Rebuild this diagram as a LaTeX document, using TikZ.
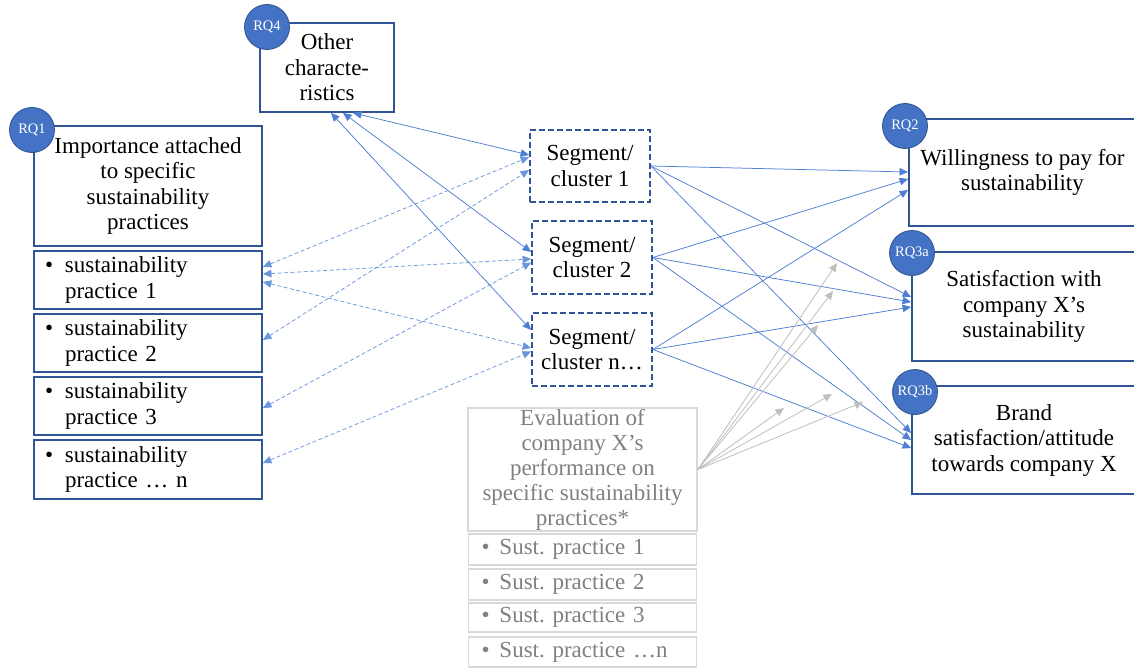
\documentclass[tikz,border=0pt]{standalone}
\usepackage{fontspec}
\setmainfont{Liberation Serif}
\usetikzlibrary{arrows.meta}
\frenchspacing
\definecolor{boxblue}{HTML}{2F5597}
\definecolor{rqfill}{HTML}{4472C4}
\definecolor{rqedge}{HTML}{2F528F}
\definecolor{linkblue}{HTML}{4E7FD4}
\definecolor{dashblue}{HTML}{6A96DC}
\definecolor{gbox}{HTML}{D9D9D9}
\definecolor{gtext}{HTML}{808080}
\definecolor{garrow}{HTML}{BFBFBF}
\begin{document}
\begin{tikzpicture}[x=1pt,y=-1pt,
  >={Triangle[length=8.5pt,width=7.5pt]},
  txt/.style={font=\fontsize{23}{25.5}\selectfont},
  bluebox/.style={draw=boxblue,line width=1.8pt,fill=white,inner sep=0pt,align=center,txt},
  segbox/.style={bluebox,dash pattern=on 6pt off 3pt},
  graybox/.style={draw=gbox,line width=1.8pt,fill=white,inner sep=0pt,align=center,text=gtext,txt},
  listbox/.style={align=left,inner xsep=11pt,text width=206pt},
  glistbox/.style={align=left,inner xsep=13pt,text width=202pt},
  rq/.style={circle,fill=rqfill,draw=rqedge,line width=0.8pt,minimum size=45pt,inner sep=0pt,text=white,font=\fontsize{14.5}{14.5}\selectfont},
  link/.style={draw=linkblue,line width=0.75pt},
  dlink/.style={draw=dashblue,line width=0.75pt,dash pattern=on 4pt off 2.5pt},
  glink/.style={draw=garrow,line width=0.8pt}
]
\clip (0,0) rectangle (1134,669);
\fill[white] (0,0) rectangle (1134,669);

% left column
\node[bluebox,minimum width=134pt,minimum height=89pt] (other) at (327,67.5) {Other\\characte-\\ristics};
\node[bluebox,minimum width=228pt,minimum height=120pt] (imp) at (148,186) {Importance attached\\to specific\\sustainability\\practices};
\node[bluebox,listbox,minimum height=58pt] (sp1) at (148,280) {\makebox[20pt][l]{\textbullet}sustainability\\\hspace*{20pt}practice 1};
\node[bluebox,listbox,minimum height=58pt] (sp2) at (148,343) {\makebox[20pt][l]{\textbullet}sustainability\\\hspace*{20pt}practice 2};
\node[bluebox,listbox,minimum height=58pt] (sp3) at (148,406) {\makebox[20pt][l]{\textbullet}sustainability\\\hspace*{20pt}practice 3};
\node[bluebox,listbox,minimum height=59pt] (spn) at (148,469.5) {\makebox[20pt][l]{\textbullet}sustainability\\\hspace*{20pt}practice … n};

% segments
\node[segbox,minimum width=120pt,minimum height=72pt] (seg1) at (590,166) {Segment/\\cluster 1};
\node[segbox,minimum width=120pt,minimum height=73pt] (seg2) at (592,257.5) {Segment/\\cluster 2};
\node[segbox,minimum width=120pt,minimum height=73pt] (segn) at (592,349.5) {Segment/\\cluster n…};

% right column
\node[bluebox,minimum width=227pt,minimum height=107pt] (wtp) at (1022.5,172.5) {Willingness to pay for\\sustainability};
\node[bluebox,minimum width=224pt,minimum height=109pt] (sat) at (1024,306.5) {Satisfaction with\\company X’s\\sustainability};
\node[bluebox,minimum width=224pt,minimum height=108pt] (brand) at (1024,440) {Brand\\satisfaction/attitude\\towards company X};

% evaluation (gray)
\node[graybox,minimum width=229pt,minimum height=123pt,font=\fontsize{23}{25}\selectfont] (eval) at (582.5,469.5) {Evaluation of\\company X’s\\performance on\\specific sustainability\\practices*};
\node[graybox,glistbox,minimum height=31pt] (s1) at (582.5,549.5) {\makebox[18pt][l]{\textbullet}Sust. practice 1};
\node[graybox,glistbox,minimum height=31pt] (s2) at (582.5,584.5) {\makebox[18pt][l]{\textbullet}Sust. practice 2};
\node[graybox,glistbox,minimum height=29pt] (s3) at (582.5,617.5) {\makebox[18pt][l]{\textbullet}Sust. practice 3};
\node[graybox,glistbox,minimum height=30pt] (sn) at (582.5,652) {\makebox[18pt][l]{\textbullet}Sust. practice …n};

% other <-> segments
\draw[link,<->] ([xshift=26pt]other.south) -- ([yshift=11pt]seg1.west);
\draw[link,<->] ([xshift=16pt]other.south) -- ([yshift=5.5pt]seg2.west);
\draw[link,<->] ([xshift=4pt]other.south) -- ([yshift=19.5pt]segn.west);

% practices <-> segments (dashed)
\draw[dlink,<->] ([yshift=13pt]sp1.east) -- ([yshift=9pt]seg1.west);
\draw[dlink,<->] ([yshift=6pt]sp1.east) -- ([yshift=-1.5pt]seg2.west);
\draw[dlink,<->] ([yshift=-2pt]sp1.east) -- ([yshift=1.5pt]segn.west);
\draw[dlink,<->] ([yshift=3pt]sp2.east) -- ([yshift=-4pt]seg1.west);
\draw[dlink,<->] ([yshift=-2pt]sp3.east) -- ([yshift=-5pt]seg2.west);
\draw[dlink,<->] ([yshift=6.5pt]spn.east) -- ([yshift=-2pt]segn.west);

% segments -> outcomes
\draw[link,->] (seg1.east) -- ([yshift=0.5pt]wtp.west);
\draw[link,->] (seg2.east) -- ([yshift=-6.5pt]wtp.west);
\draw[link,->] (segn.east) -- ([yshift=-17.5pt]wtp.west);
\draw[link,->] (seg1.east) -- ([yshift=9.5pt]sat.west);
\draw[link,->] (seg2.east) -- ([yshift=4.5pt]sat.west);
\draw[link,->] (segn.east) -- ([yshift=-0.5pt]sat.west);
\draw[link,->] (seg1.east) -- ([yshift=7pt]brand.west);
\draw[link,->] (seg2.east) -- (brand.west);
\draw[link,->] (segn.east) -- ([yshift=-8pt]brand.west);

% moderation arrows (gray)
\coordinate (g1) at (837,263);
\coordinate (g2) at (833,291);
\coordinate (g3) at (818,325);
\coordinate (g4) at (784,408);
\coordinate (g5) at (832,394);
\coordinate (g6) at (863,402);
\foreach \g in {g1,g2,g3,g4,g5,g6}
  \draw[glink,->] (eval.east) -- (\g);

% RQ circles
\node[rq] (rq4) at (267,27) {RQ4};
\node[rq] (rq1) at (32,130) {RQ1};
\node[rq] (rq2) at (905,126) {RQ2};
\node[rq] (rq3a) at (912,253) {RQ3a};
\node[rq] (rq3b) at (915,392) {RQ3b};
\end{tikzpicture}
\end{document}
